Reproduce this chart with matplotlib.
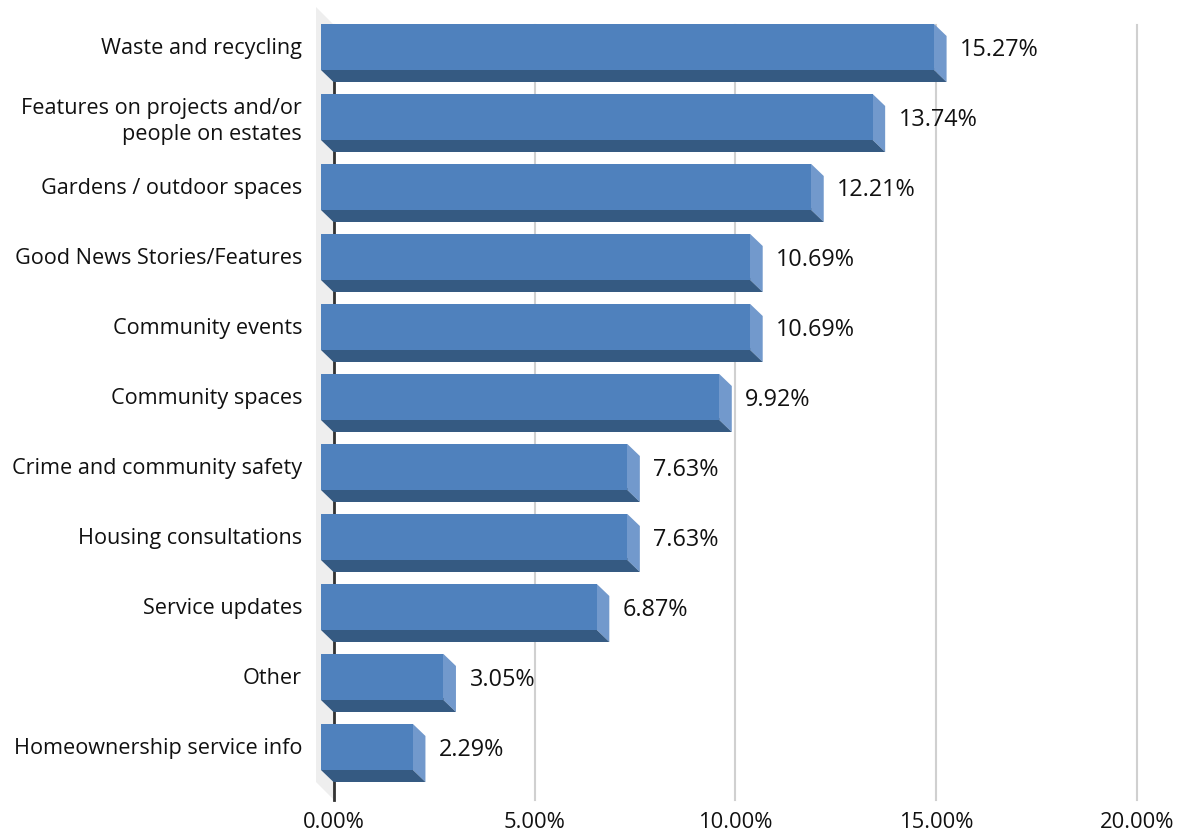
import numpy as np
import matplotlib
matplotlib.use('Agg')
from matplotlib import pyplot as plt
from matplotlib.patches import Polygon
from matplotlib.transforms import ScaledTranslation

categories = ['Waste and recycling', 'Features on projects and/or\npeople on estates',
              'Gardens / outdoor spaces', 'Good News Stories/Features', 'Community events',
              'Community spaces', 'Crime and community safety', 'Housing consultations',
              'Service updates', 'Other', 'Homeownership service info']
values = [15.27, 13.74, 12.21, 10.69, 10.69, 9.92, 7.63, 7.63, 6.87, 3.05, 2.29]
xticks = [0, 5, 10, 15, 20]

plt.rcParams['font.family'] = ['Open Sans', 'DejaVu Sans']

W, H = 1183, 835
x0, x1 = 334, 1137      # pixel pos of 0% and 20%
y_top, y_bot = 25, 800  # plot area in pixels
first, step = 47, 70    # centre of first bar front, bar spacing

fig = plt.figure(figsize=(W / 100, H / 100), dpi=100)
ax = fig.add_axes([x0 / W, 1 - y_bot / H, (x1 - x0) / W, (y_bot - y_top) / H])
ax.set_xlim(0, 20)
ax.set_ylim((y_bot - first) / step, (y_top - first) / step)

sx = 20 / (x1 - x0)
sy = 1 / step
depth_x = 12.5 * sx
depth_y = 12 * sy
shift = 13 * sx
bar_h = 46 * sy

# side wall
wx = 18 * sx
wy = 18 * sy
yl = ax.get_ylim()
ax.add_patch(Polygon([(-wx, yl[1] - wy), (0, yl[1]), (0, yl[0]), (-wx, yl[0] - wy)],
                     closed=True, fc='#eeeeee', ec='none', clip_on=False, zorder=0.5))

ax.grid(axis='x', color='#d0d0d0', lw=1.5, zorder=1, clip_on=False)
ax.set_axisbelow(True)

y = np.arange(len(values))
ax.barh(y, values, left=-shift, height=bar_h, color='#4f81bd', clip_on=False, zorder=3)
for i, v in enumerate(values):
    top = i - bar_h / 2
    bot = i + bar_h / 2
    l = -shift
    r = v - shift
    # start the faces a little under the front so no seam shows
    ax.add_patch(Polygon([(r - 2 * sx, top), (r, top), (r + depth_x, top + depth_y),
                          (r + depth_x, bot + depth_y), (r, bot), (r - 2 * sx, bot)],
                         closed=True, fc='#7299cc', ec='none', clip_on=False, zorder=2.8))
    ax.add_patch(Polygon([(l, bot - 2 * sy), (r, bot - 2 * sy), (r, bot), (r + depth_x, bot + depth_y),
                          (l + depth_x, bot + depth_y), (l, bot)],
                         closed=True, fc='#355a82', ec='none', clip_on=False, zorder=2.9))
    ax.text(v + 13 * sx, i + 3 * sy, '%.2f%%' % v, ha='left', va='center', fontsize=16.8, color='#111111')

ax.set_yticks(y)
ax.set_yticklabels(categories, fontsize=15.6, color='#111111', linespacing=1.32, ha='right')
ax.set_xticks(xticks)
ax.set_xticklabels(['%.2f%%' % t for t in xticks], fontsize=15.8, color='#111111')
ax.tick_params(axis='y', length=0, pad=23)
ax.tick_params(axis='x', length=0, pad=9)
up = ScaledTranslation(0, 1 / 100, fig.dpi_scale_trans)
for lab in ax.get_yticklabels():
    lab.set_transform(lab.get_transform() + up)
for s in ['top', 'right', 'bottom']:
    ax.spines[s].set_visible(False)
ax.spines['left'].set_color('#333333')
ax.spines['left'].set_linewidth(2)
ax.spines['left'].set_zorder(2)

fig.savefig('out.png', dpi=100)
